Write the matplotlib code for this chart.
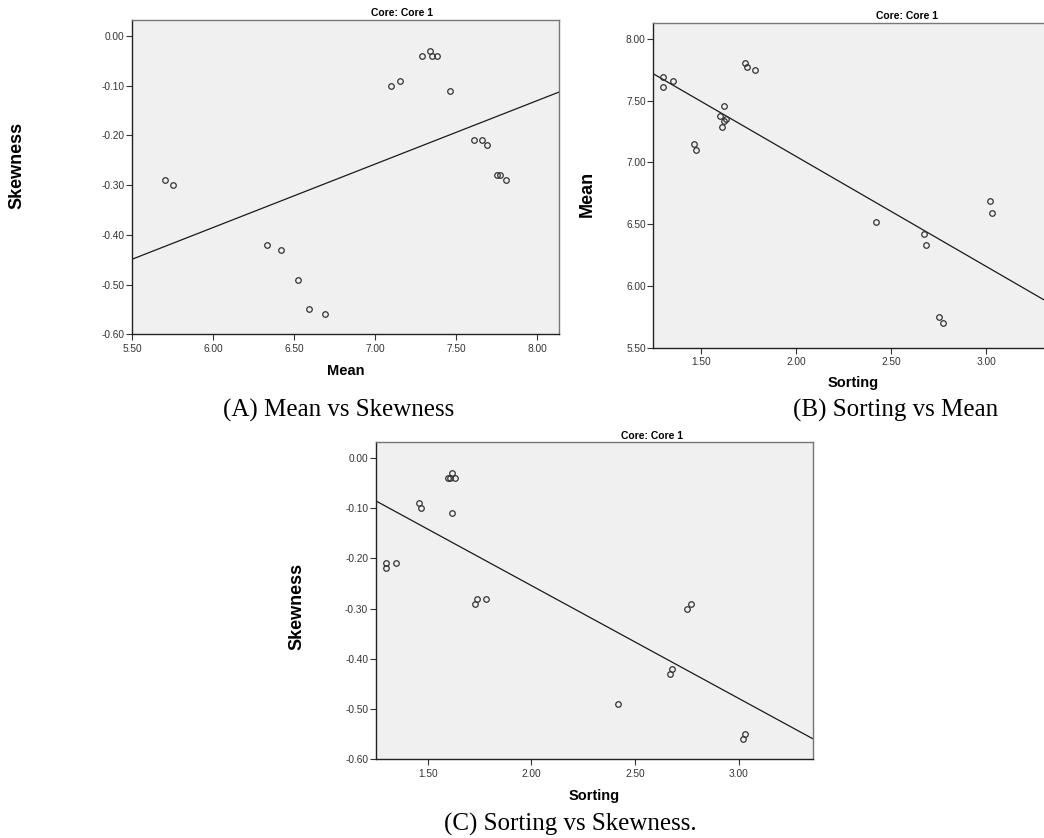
import numpy as np
import matplotlib
matplotlib.use("Agg")
import matplotlib.pyplot as plt

plt.rcParams['font.family'] = ['Liberation Sans', 'DejaVu Sans']
plt.rcParams['axes.unicode_minus'] = False

# data (20 samples, Core 1)
mean = [5.70, 5.75, 6.33, 6.42, 6.52, 6.59, 6.69, 7.10, 7.15, 7.29,
        7.34, 7.35, 7.38, 7.46, 7.61, 7.66, 7.69, 7.75, 7.77, 7.81]
skewness = [-0.29, -0.30, -0.42, -0.43, -0.49, -0.55, -0.56, -0.10, -0.09, -0.04,
            -0.03, -0.04, -0.04, -0.11, -0.21, -0.21, -0.22, -0.28, -0.28, -0.29]
sorting = [2.77, 2.75, 2.68, 2.67, 2.42, 3.03, 3.02, 1.47, 1.46, 1.61,
           1.62, 1.63, 1.60, 1.62, 1.30, 1.35, 1.30, 1.78, 1.74, 1.73]

mean_ticks = [5.5, 6.0, 6.5, 7.0, 7.5, 8.0]
sorting_ticks = [1.5, 2.0, 2.5, 3.0]
skew_ticks = [-0.6, -0.5, -0.4, -0.3, -0.2, -0.1, 0.0]
mean_yticks = [5.5, 6.0, 6.5, 7.0, 7.5, 8.0]

panel_title = 'Core: Core 1'
captions = ['(A) Mean vs Skewness', '(B) Sorting vs Mean', '(C) Sorting vs Skewness.']

fig = plt.figure(figsize=(10.44, 8.38), dpi=100)


def scatter_panel(rect, x, y, xlim, ylim, xticks, yticks, xlabel, ylabel, ylab_pos, xlab_y):
    ax = fig.add_axes(rect)
    ax.set_facecolor('#f0f0f0')
    ax.plot(x, y, 'o', ms=4.0, mfc='none', mec='#333333', mew=0.9, zorder=3)
    # least squares fit line
    k, b = np.polyfit(x, y, 1)
    xs = np.array(xlim)
    ax.plot(xs, k * xs + b, color='#1a1a1a', lw=0.9, zorder=2)
    ax.set_xlim(xlim)
    ax.set_ylim(ylim)
    ax.set_xticks(xticks)
    ax.set_yticks(yticks)
    fmt = matplotlib.ticker.FuncFormatter(lambda v, p: '%.2f' % (round(v, 2) + 0.0))
    ax.xaxis.set_major_formatter(fmt)
    ax.yaxis.set_major_formatter(fmt)
    ax.tick_params(axis='both', direction='out', length=4.5, width=0.8,
                   color='#333333', labelsize=7.3, labelcolor='#333333')
    ax.tick_params(axis='y', pad=1)
    ax.tick_params(axis='x', pad=2.5)
    for s in ['top', 'right']:
        ax.spines[s].set_color('#777777')
        ax.spines[s].set_linewidth(1.0)
    for s in ['left', 'bottom']:
        ax.spines[s].set_color('#222222')
        ax.spines[s].set_linewidth(1.0)
    ax.set_title(panel_title, fontsize=7.5, fontweight='bold', x=0.632, pad=2.5)
    ax.set_xlabel(xlabel, fontsize=10.5, fontweight='bold', va='center')
    ax.xaxis.set_label_coords(0.5, xlab_y)
    ax.set_ylabel(ylabel, fontsize=13, fontweight='bold', va='center')
    ax.yaxis.set_label_coords(*ylab_pos)
    return ax


# (A) Mean vs Skewness
scatter_panel([0.1267, 0.6011, 0.4090, 0.3751], mean, skewness,
              (5.5, 8.136), (-0.6, 0.032), mean_ticks, skew_ticks,
              'Mean', 'Skewness', (-0.269, 0.536), -0.116)

# (B) Sorting vs Mean
scatter_panel([0.6258, 0.5853, 0.3837, 0.3876], sorting, mean,
              (1.247, 3.356), (5.5, 8.133), sorting_ticks, mean_yticks,
              'Sorting', 'Mean', (-0.166, 0.473), -0.108)

# (C) Sorting vs Skewness
scatter_panel([0.3599, 0.0939, 0.4184, 0.3783], sorting, skewness,
              (1.25, 3.356), (-0.6, 0.031), sorting_ticks, skew_ticks,
              'Sorting', 'Skewness', (-0.180, 0.481), -0.116)

cap_kw = dict(fontsize=18, family=['Liberation Serif', 'DejaVu Serif'],
              ha='left', va='baseline')
fig.text(0.2133, 0.5024, captions[0], **cap_kw)
fig.text(0.7596, 0.5024, captions[1], **cap_kw)
fig.text(0.4249, 0.0084, captions[2], **cap_kw)

fig.savefig('out.png', dpi=100)
